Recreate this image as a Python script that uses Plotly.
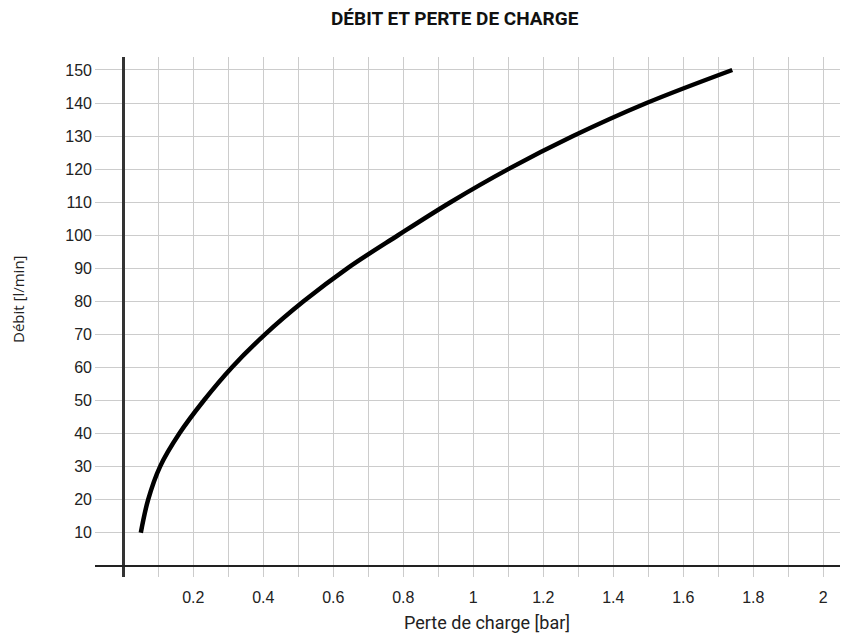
import plotly.graph_objects as go

# Data
pressure_drop_bar = [0.05, 0.071, 0.105, 0.16, 0.23, 0.31, 0.405, 0.515, 0.64,
                     0.785, 0.935, 1.10, 1.285, 1.495, 1.74]
flow_l_min = [10, 20, 30, 40, 50, 60, 70, 80, 90, 100, 110, 120, 130, 140, 150]

x_tick_vals = [0.2, 0.4, 0.6, 0.8, 1.0, 1.2, 1.4, 1.6, 1.8, 2.0]
x_tick_text = ["0.2", "0.4", "0.6", "0.8", "1", "1.2", "1.4", "1.6", "1.8", "2"]
y_tick_vals = [10, 20, 30, 40, 50, 60, 70, 80, 90, 100, 110, 120, 130, 140, 150]

title_text = "<b>DÉBIT ET PERTE DE CHARGE</b>"
x_title = "Perte de charge [bar]"
y_title = "Débit [l/min]"

# page has an 8px body margin; figure is 840x632 so it fits the 848x640 window
W, H = 840, 632
PL, PT, PW, PH = 95, 57, 753, 520   # desired plot area in page pixels
OFF = 8
L = PL - OFF
T = PT - OFF
R = W - L - PW
B = H - T - PH


def px(xp):
    return (xp - PL) / PW


def py(yp):
    return (PT + PH - yp) / PH


fig = go.Figure()
fig.add_trace(go.Scatter(
    x=pressure_drop_bar, y=flow_l_min, mode="lines",
    line=dict(color="#000000", width=4.5, shape="spline", smoothing=1.0),
    hoverinfo="skip", showlegend=False,
))

fig.update_layout(
    width=W, height=H,
    margin=dict(l=L, r=R, t=T, b=B, pad=0),
    paper_bgcolor="white", plot_bgcolor="white",
    showlegend=False,
    xaxis=dict(
        range=[-0.0809, 2.0706],
        tickmode="array", tickvals=x_tick_vals, ticktext=x_tick_text,
        showgrid=True, gridcolor="#cccccc", gridwidth=1.3,
        minor=dict(dtick=0.1, tick0=0, showgrid=True, gridcolor="#cccccc", gridwidth=1.3),
        zeroline=True, zerolinecolor="#333333", zerolinewidth=3,
        showline=False, ticks="", ticklabelstandoff=9,
        tickfont=dict(family="Liberation Sans, Arial", size=16, color="#222222"),
    ),
    yaxis=dict(
        range=[-3.4, 153.93],
        tickmode="array", tickvals=y_tick_vals,
        showgrid=True, gridcolor="#cccccc", gridwidth=1.3,
        zeroline=True, zerolinecolor="#222222", zerolinewidth=2,
        showline=False, ticks="", ticklabelstandoff=2,
        tickfont=dict(family="Liberation Sans, Arial", size=16, color="#222222"),
    ),
    annotations=[
        dict(text=title_text, x=px(455), y=py(18), xref="paper", yref="paper",
             xanchor="center", yanchor="middle", showarrow=False,
             font=dict(family="Roboto", size=19, color="#111111")),
        dict(text=x_title, x=px(487), y=py(622), xref="paper", yref="paper",
             xanchor="center", yanchor="middle", showarrow=False,
             font=dict(family="Roboto", size=18, color="#222222")),
        dict(text=y_title, x=px(18), y=py(299), xref="paper", yref="paper",
             xanchor="center", yanchor="middle", showarrow=False, textangle=-90,
             borderpad=0,
             font=dict(family="Open Sans", size=15, color="#222222")),
    ],
)

fig.write_html("out.html")
